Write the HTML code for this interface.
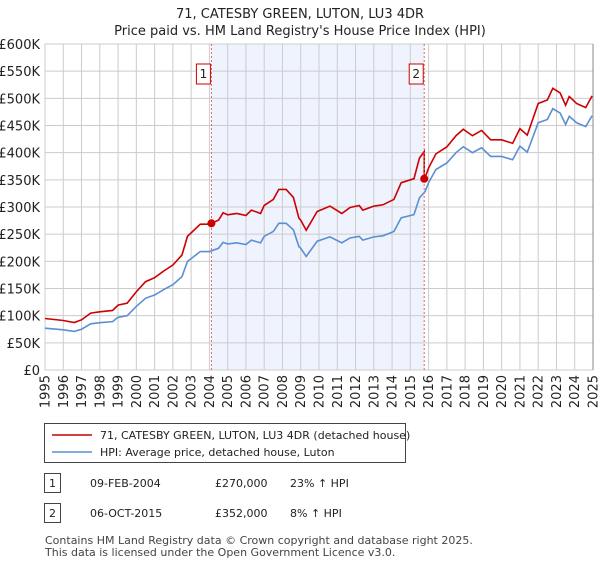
<!DOCTYPE html>
<html><head><meta charset="utf-8"><style>
body{margin:0;background:#fff;font-family:"Liberation Sans","DejaVu Sans",sans-serif;}
svg text{font-family:"DejaVu Sans","Liberation Sans",sans-serif;}
</style></head><body>
<svg width="600" height="560" viewBox="0 0 600 560" xmlns="http://www.w3.org/2000/svg">
<g id="g"></g>
</svg>
<script>
const years=[1995,1996,1996.6,1997,1997.5,1998,1998.7,1999,1999.5,2000,2000.5,2001,2001.5,2002,2002.5,2002.8,2003,2003.5,2004,2004.5,2004.75,2005,2005.5,2006,2006.3,2006.8,2007,2007.5,2007.8,2008.2,2008.6,2008.9,2009.0,2009.3,2009.9,2010.6,2011.25,2011.7,2012.2,2012.4,2013,2013.5,2014.1,2014.5,2015.2,2015.5,2015.8,2016.0,2016.4,2017,2017.5,2017.9,2018.4,2018.9,2019.4,2020,2020.6,2021,2021.4,2022,2022.5,2022.8,2023.2,2023.5,2023.7,2024.1,2024.6,2024.95];
const hpi=[77,74,71,75,85,87,89,97,100,117,132,138,148,157,172,200,205,218,218,224,235,232,234,231,239,234,246,255,270,270,258,227,224,209,237,245,234,243,246,239,245,247,255,280,286,317,328,345,369,381,400,411,400,409,393,393,387,412,401,455,461,481,473,452,467,455,448,468];
const saleYears=[2004.11,2015.76];
const salePrices=[270,352];
const saleLabels=["1","2"];
const yTicks=[0,50,100,150,200,250,300,350,400,450,500,550,600];
const xTicks=[1995,1996,1997,1998,1999,2000,2001,2002,2003,2004,2005,2006,2007,2008,2009,2010,2011,2012,2013,2014,2015,2016,2017,2018,2019,2020,2021,2022,2023,2024,2025];
const X0=45,X1=593,Y0=370,Y1=44;
const xs=y=>X0+(y-1995)/30*(X1-X0);
const ys=v=>Y0-v/600*(Y0-Y1);
const NS="http://www.w3.org/2000/svg",g=document.getElementById('g');
function mk(t,a,txt){const e=document.createElementNS(NS,t);for(const k in a)e.setAttribute(k,a[k]);if(txt!=null)e.textContent=txt;g.appendChild(e);return e;}
function interp(yr){for(let i=0;i<years.length-1;i++){if(yr>=years[i]&&yr<=years[i+1]){return hpi[i]+(hpi[i+1]-hpi[i])*(yr-years[i])/(years[i+1]-years[i]);}}return hpi[hpi.length-1];}
let e;
e=mk('text',{x:300,y:18,'font-size':13,'text-anchor':'middle',fill:'#222'},'71, CATESBY GREEN, LUTON, LU3 4DR');

e=mk('text',{x:300,y:35,'font-size':13,'text-anchor':'middle',fill:'#222'},"Price paid vs. HM Land Registry's House Price Index (HPI)");

e=mk('rect',{x:xs(saleYears[0]),y:Y1,width:xs(saleYears[1])-xs(saleYears[0]),height:Y0-Y1,fill:'#eef3fd'});

yTicks.forEach(v=>{e=mk('line',{x1:X0,x2:X1,y1:ys(v),y2:ys(v),stroke:'#cccccc','stroke-width':1});

e=mk('text',{x:40,y:ys(v)+5,'font-size':13,'text-anchor':'end',fill:'#222'},v===0?'£0':'£'+v+'K');
});
xTicks.forEach(v=>{e=mk('line',{x1:xs(v),x2:xs(v),y1:Y1,y2:Y0,stroke:'#cccccc','stroke-width':1});

const tx=xs(v)+4.5,ty=375;
e=mk('text',{x:tx,y:ty,'font-size':13,'text-anchor':'end',fill:'#222',transform:'rotate(-90 '+tx+' '+ty+')'},String(v));
});
e=mk('line',{x1:X1,x2:X1,y1:Y1,y2:Y0,stroke:'#888','stroke-width':1});

const f=saleYears.map((s,i)=>salePrices[i]/interp(s));
e=mk('polyline',{points:years.map((y,i)=>xs(y)+','+ys(hpi[i])).join(' '),fill:'none',stroke:'#5b8fd3','stroke-width':1.6});

let pts=[];
years.forEach((y,i)=>{if(y<saleYears[1])pts.push([y,hpi[i]*f[0]]);});
pts.push([saleYears[1],interp(saleYears[1])*f[0]]);
pts.push([saleYears[1],salePrices[1]]);
years.forEach((y,i)=>{if(y>saleYears[1])pts.push([y,hpi[i]*f[1]]);});
e=mk('polyline',{points:pts.map(p=>xs(p[0])+','+ys(p[1])).join(' '),fill:'none',stroke:'#cc0000','stroke-width':1.6});

saleYears.forEach((s,i)=>{
e=mk('line',{x1:xs(s),x2:xs(s),y1:Y1,y2:Y0,stroke:'#e06666','stroke-width':1,'stroke-dasharray':'2,2'});

e=mk('circle',{cx:xs(s),cy:ys(salePrices[i]),r:4,fill:'#cc0000'});

e=mk('rect',{x:xs(s)-15,y:64,width:14,height:20,fill:'#fff',stroke:'#cc0000','stroke-width':1});

e=mk('text',{x:xs(s)-8,y:78,'font-size':12,'text-anchor':'middle',fill:'#222'},saleLabels[i]);
});
e=mk('rect',{x:44.5,y:423.5,width:361,height:39,fill:'#fff',stroke:'#444','stroke-width':1});

e=mk('line',{x1:52,x2:92,y1:435,y2:435,stroke:'#cc0000','stroke-width':1.6});

e=mk('text',{x:100,y:439,'font-size':11,fill:'#222'},'71, CATESBY GREEN, LUTON, LU3 4DR (detached house)');

e=mk('line',{x1:52,x2:92,y1:452,y2:452,stroke:'#5b8fd3','stroke-width':1.6});

e=mk('text',{x:100,y:456,'font-size':11,fill:'#222'},'HPI: Average price, detached house, Luton');

const rows=[['1','09-FEB-2004','£270,000','23% ↑ HPI',483],['2','06-OCT-2015','£352,000','8% ↑ HPI',513]];
rows.forEach(r=>{
e=mk('rect',{x:44.5,y:r[4]-9.5,width:16,height:19,fill:'#fff',stroke:'#444'});

e=mk('text',{x:52.5,y:r[4]+4,'font-size':11,'text-anchor':'middle',fill:'#222'},r[0]);

e=mk('text',{x:90,y:r[4]+4,'font-size':11,fill:'#222'},r[1]);

e=mk('text',{x:215,y:r[4]+4,'font-size':11,fill:'#222'},r[2]);

e=mk('text',{x:290,y:r[4]+4,'font-size':11,fill:'#222'},r[3]);
});
e=mk('text',{x:45,y:544,'font-size':11,fill:'#444'},'Contains HM Land Registry data © Crown copyright and database right 2025.');

e=mk('text',{x:45,y:556,'font-size':11,fill:'#444'},'This data is licensed under the Open Government Licence v3.0.');

</script>
</body></html>
